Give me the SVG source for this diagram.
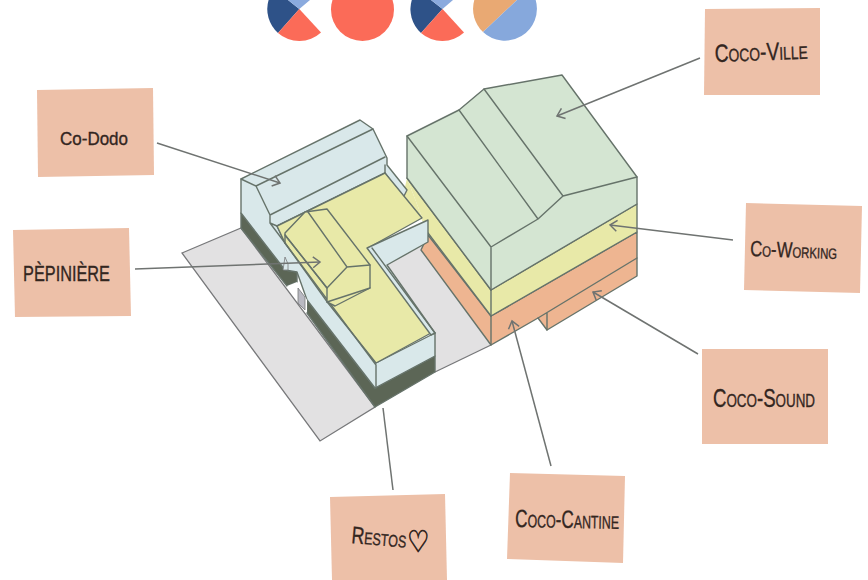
<svg xmlns="http://www.w3.org/2000/svg" width="868" height="580" viewBox="0 0 868 580">
<style>
.e{stroke:#66736a;stroke-width:1.4;stroke-linejoin:round;stroke-linecap:round}
.n{fill:none}
.g{fill:#e2e1e2}.b{fill:#d9e8ea}.d{fill:#5c6656}.y{fill:#e8e9a8}.v{fill:#d4e5d2}.o{fill:#eeb591}
.card{fill:#edc0a8}
.t{font-family:"Liberation Sans",Arial,sans-serif;fill:#33261f;stroke:#33261f;stroke-width:.35}
.sc{font-variant:small-caps}
.c{stroke:#6f7371;stroke-width:1.5;fill:none}
</style>
<defs>
<marker id="a" markerUnits="userSpaceOnUse" markerWidth="16" markerHeight="16" refX="14" refY="8" orient="auto" viewBox="0 0 16 16">
<path d="M7 2.500L14 8L7 13.500" fill="none" stroke="#6f7371" stroke-width="1.500"/>
</marker>
</defs>
<rect width="868" height="580" fill="#fff"/>

<g id="logos">
<path d="M288 0L299.300 9L278 33A32 32 0 0 1 268.600 0Z" fill="#2e5288"/>
<path d="M288 0L299.300 9L310 0Z" fill="#8aaade"/>
<path d="M299.300 9L321 32.500A32 32 0 0 1 278 33Z" fill="#fb6b58"/>
<circle cx="362.500" cy="9.500" r="31.500" fill="#fb6b58"/>
<path d="M431 0L442.500 9L421 33A32 32 0 0 1 411.800 0Z" fill="#2e5288"/>
<path d="M431 0L442.500 9L453 0Z" fill="#8aaade"/>
<path d="M442.500 9L464 32.500A32 32 0 0 1 421 33Z" fill="#fb6b58"/>
<path d="M517 0L483 32A32 32 0 0 1 474.300 0Z" fill="#e9a973"/>
<path d="M517 0L483 32A32 32 0 0 0 535.700 0Z" fill="#86a8dc"/>
</g>

<g id="ground">
<path class="g" d="M182 253L241 228L375 407L320 441Z" stroke="#77787a" stroke-width="1.300"/>
<path class="g" d="M421 250L491 345L435 372L435 333L385 265L428 242Z"/>
<path d="M435 372L491 345" class="n" stroke="#77787a" stroke-width="1.300"/>
</g>

<g id="coco-ville-building">
<path class="o e" d="M428 235L491 316L637 232V276L547 330L538 318L491 345L421 250Z"/>
<path class="e n" d="M491 316V345M637 258L538 318M547 313V330"/>
<path class="y" d="M403 196L407 178L428 233L422 220Z"/>
<path class="y e" d="M407 178L491 290L637 204V232L491 316L428 233"/>
<path class="e n" d="M491 290V316"/>
<path class="v e" d="M407 136L459 110L484 89L562 75L637 177V204L491 290L407 178Z"/>
<path class="e n" d="M407 136L491 247V290M491 247L538 219L563 196L637 177M459 110L538 219M484 89L563 196"/>
</g>

<g id="restos-building">
<path class="d e" d="M241 213L285 270L297 272V282L287 286L241 228Z"/>
<path class="d e" d="M307 300L375 388L435 356V372L375 407L307 313Z"/>
<path class="b e" d="M241 179L360 120L373 129L387 158V165L407 190L403 198L385 173L277 226L285 243L376 363L435 333V356L375 388L307 300L297 272L285 270L241 213Z"/>
<path fill="#fff" d="M287 286L297 282L307 300V313Z"/>
<path fill="#b9b9c2" stroke="#77787a" stroke-width="0.800" d="M298 288L305 297V310L298 303Z"/>
<path class="y e" d="M277 226L385 173L422 218L368 248L431 333L376 363L328 303L285 243Z"/>
<path class="b e" d="M367 248L428 220V242L387 265L435 333L431 335Z"/>
<path class="e n" d="M372 248L435 333"/>
<path class="e n" d="M241 179L256 186L270 215V223L285 243L376 365V388M256 186L373 129M270 215L385 157M270 223L277 226M385 165V173"/>
</g>

<g id="pepiniere-building">
<path class="y e" d="M285 233L305 212L327 209L370 265V288L335 306L327 302V288L285 235Z"/>
<path class="e n" d="M285 235V243M308 212L347 267L370 265M285 235L327 288L347 267M327 302L370 288"/>
<path class="b" stroke="#77787a" stroke-width="0.800" d="M285 257L288 264V270H283Z"/>
</g>

<g id="connectors">
<path class="c" marker-end="url(#a)" d="M157 143L280 183"/>
<path class="c" marker-end="url(#a)" d="M135 269L320 262"/>
<path class="c" marker-end="url(#a)" d="M700 58L557 116"/>
<path class="c" marker-end="url(#a)" d="M733 240L610 225"/>
<path class="c" marker-end="url(#a)" d="M698 354L593 292"/>
<path class="c" marker-end="url(#a)" d="M551 466L512 321"/>
<path class="c" d="M393 490L383 408"/>
</g>

<g id="co-dodo">
<path class="card" d="M37 90L153 88L154 175L38 177Z"/>
<text class="t" x="60" y="145" font-size="19" textLength="68" lengthAdjust="spacingAndGlyphs">Co-Dodo</text>
</g>
<g id="pepiniere">
<path class="card" d="M13 230L129 228L131 316L15 317Z"/>
<text class="t" x="23" y="281" font-size="22" textLength="87" lengthAdjust="spacingAndGlyphs">PÈPINIÈRE</text>
</g>
<g id="coco-ville">
<path class="card" d="M705 9L820 8V95L704 95Z"/>
<text class="t sc" transform="rotate(-2 715 62)" x="715" y="62" font-size="25" textLength="93" lengthAdjust="spacingAndGlyphs">Coco-Ville</text>
</g>
<g id="co-working">
<path class="card" d="M746 203L862 206L860 293L744 290Z"/>
<text class="t sc" transform="rotate(2 750 256)" x="750" y="256" font-size="22" textLength="87" lengthAdjust="spacingAndGlyphs">Co-Working</text>
</g>
<g id="coco-sound">
<path class="card" d="M702 349H828V444H702Z"/>
<text class="t sc" x="713" y="407" font-size="25" textLength="102" lengthAdjust="spacingAndGlyphs">Coco-Sound</text>
</g>
<g id="coco-cantine">
<path class="card" d="M510 473L625 476L623 563L507 559Z"/>
<text class="t sc" transform="rotate(1 515 527)" x="515" y="527" font-size="25" textLength="104" lengthAdjust="spacingAndGlyphs">Coco-Cantine</text>
</g>
<g id="restos">
<path class="card" d="M330 497L445 494L447 580H332Z"/>
<text class="t sc" transform="rotate(5 351 543)" x="351" y="543" font-size="24" textLength="55" lengthAdjust="spacingAndGlyphs">Restos</text>
<text x="407" y="552" font-size="30" style="font-family:'DejaVu Sans',sans-serif" fill="#33261f" stroke="#33261f" stroke-width=".8" textLength="22" lengthAdjust="spacingAndGlyphs">♡</text>
</g>
</svg>
